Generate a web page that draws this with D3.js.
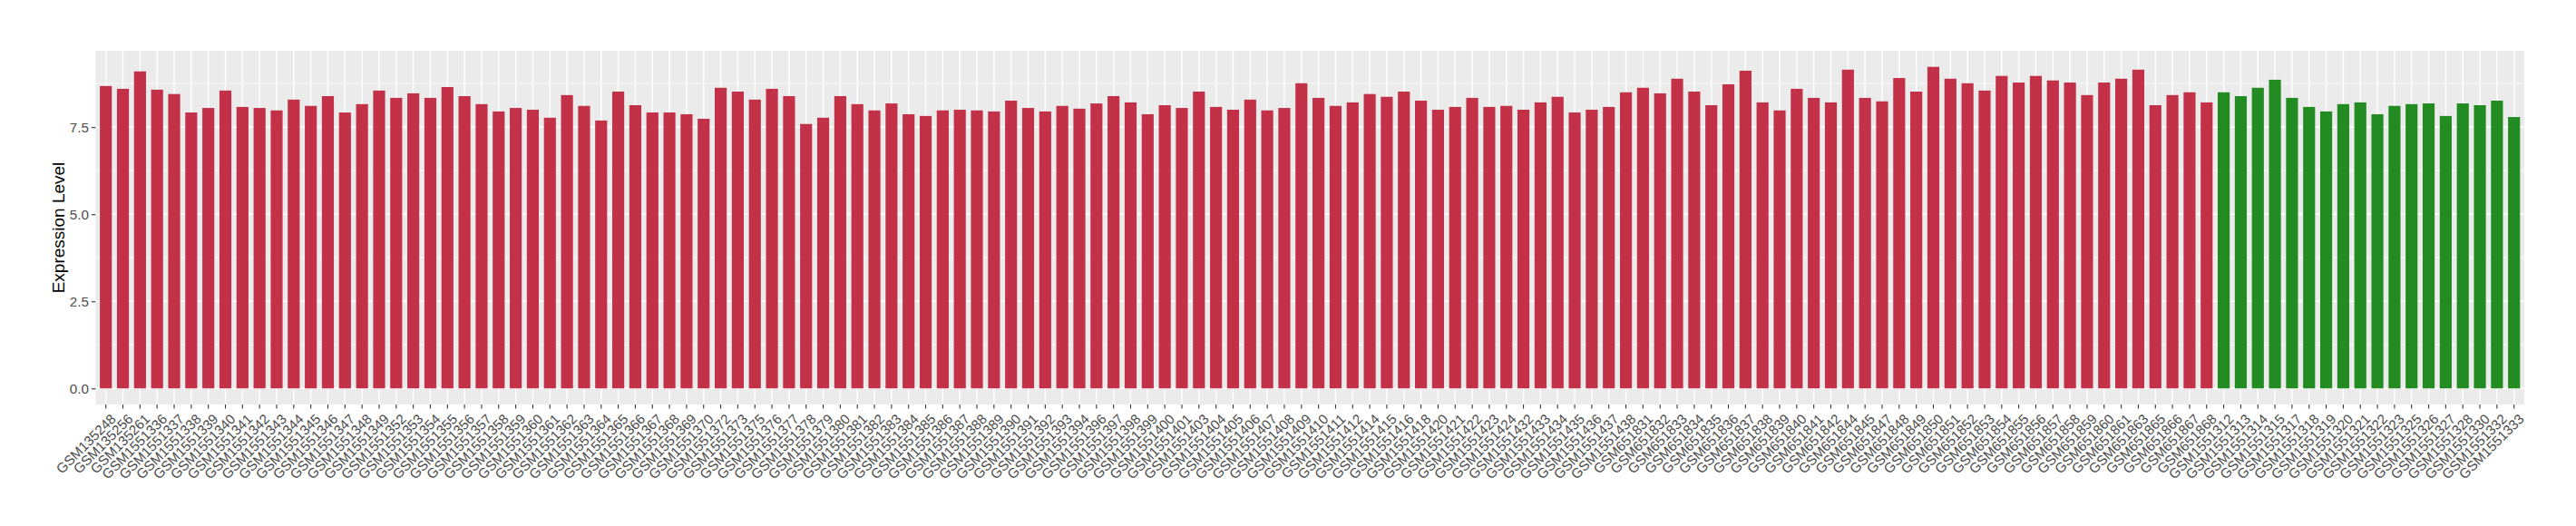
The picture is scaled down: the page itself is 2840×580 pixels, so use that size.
<!DOCTYPE html>
<html>
<head>
<meta charset="utf-8">
<script src="https://cdn.jsdelivr.net/npm/d3@7"></script>
<style>
  html, body { margin: 0; padding: 0; background: #ffffff; }
  svg { display: block; }
</style>
</head>
<body>
<svg id="chart" width="2840" height="580"></svg>
<script>
// ---------------- data ----------------
const tumorSamples = ["GSM135248","GSM135256","GSM135261","GSM1551336","GSM1551337","GSM1551338","GSM1551339","GSM1551340","GSM1551341","GSM1551342","GSM1551343","GSM1551344","GSM1551345","GSM1551346","GSM1551347","GSM1551348","GSM1551349","GSM1551352","GSM1551353","GSM1551354","GSM1551355","GSM1551356","GSM1551357","GSM1551358","GSM1551359","GSM1551360","GSM1551361","GSM1551362","GSM1551363","GSM1551364","GSM1551365","GSM1551366","GSM1551367","GSM1551368","GSM1551369","GSM1551370","GSM1551372","GSM1551373","GSM1551375","GSM1551376","GSM1551377","GSM1551378","GSM1551379","GSM1551380","GSM1551381","GSM1551382","GSM1551383","GSM1551384","GSM1551385","GSM1551386","GSM1551387","GSM1551388","GSM1551389","GSM1551390","GSM1551391","GSM1551392","GSM1551393","GSM1551394","GSM1551396","GSM1551397","GSM1551398","GSM1551399","GSM1551400","GSM1551401","GSM1551403","GSM1551404","GSM1551405","GSM1551406","GSM1551407","GSM1551408","GSM1551409","GSM1551410","GSM1551411","GSM1551412","GSM1551414","GSM1551415","GSM1551416","GSM1551418","GSM1551420","GSM1551421","GSM1551422","GSM1551423","GSM1551424","GSM1551432","GSM1551433","GSM1551434","GSM1551435","GSM1551436","GSM1551437","GSM1551438","GSM651831","GSM651832","GSM651833","GSM651834","GSM651835","GSM651836","GSM651837","GSM651838","GSM651839","GSM651840","GSM651841","GSM651842","GSM651844","GSM651845","GSM651847","GSM651848","GSM651849","GSM651850","GSM651851","GSM651852","GSM651853","GSM651854","GSM651855","GSM651856","GSM651857","GSM651858","GSM651859","GSM651860","GSM651861","GSM651863","GSM651865","GSM651866","GSM651867","GSM651868"];

const tumorValues = [
  8.68, 8.60, 9.10, 8.575, 8.45, 7.92, 8.05, 8.55, 8.08, 8.05, 7.98, 8.29, 8.11, 8.39, 7.92, 8.16, 8.55, 8.34, 8.47, 8.34, 8.65, 8.39, 8.16, 7.95,
  8.05, 8.00, 7.77, 8.42, 8.11, 7.69, 8.52, 8.13, 7.92, 7.92, 7.87, 7.74, 8.63, 8.52, 8.29, 8.60, 8.39, 7.59, 7.77, 8.39, 8.16, 7.98, 8.18, 7.87,
  7.82, 7.98, 8.00, 7.98, 7.95, 8.26, 8.05, 7.95, 8.11, 8.03, 8.18, 8.39, 8.21, 7.87, 8.13, 8.05, 8.52, 8.08, 8.00, 8.29, 7.98, 8.05, 8.76, 8.34,
  8.11, 8.21, 8.45, 8.37, 8.52, 8.26, 8.00, 8.08, 8.34, 8.08, 8.11, 8.00, 8.21, 8.37, 7.92, 8.00, 8.08, 8.50, 8.63, 8.47, 8.89, 8.52, 8.13, 8.73,
  9.12, 8.21, 7.98, 8.60, 8.34, 8.21, 9.15, 8.34, 8.24, 8.91, 8.52, 9.23, 8.89, 8.76, 8.55, 8.97, 8.78, 8.97, 8.84, 8.78, 8.42, 8.78, 8.89, 9.15,
  8.13, 8.42, 8.50, 8.21
];

const normalSamples = ["GSM1551312","GSM1551313","GSM1551314","GSM1551315","GSM1551317","GSM1551318","GSM1551319","GSM1551320","GSM1551321","GSM1551322","GSM1551323","GSM1551325","GSM1551326","GSM1551327","GSM1551328","GSM1551330","GSM1551332","GSM1551333"];

const normalValues = [8.50, 8.39, 8.63, 8.86, 8.34, 8.08, 7.95, 8.16, 8.21, 7.87, 8.11, 8.16, 8.18, 7.82, 8.18, 8.13, 8.26, 7.79];

const yTicks = [0, 2.5, 5, 7.5];
const yMinorTicks = [1.25, 3.75, 6.25, 8.75];
const yTitle = "Expression Level";

const groupColors = { tumor: "#C33149", normal: "#228B22" };

// ---------------- build ----------------
const rows = tumorSamples.map((s, i) => ({ sample: s, value: tumorValues[i], group: "tumor" }))
  .concat(normalSamples.map((s, i) => ({ sample: s, value: normalValues[i], group: "normal" })));

const panel = { left: 105.4, right: 2783, top: 56, bottom: 446 };

const svg = d3.select("#chart");
const font = "'Liberation Sans', Arial, Helvetica, sans-serif";

const yMax = d3.max(rows, d => d.value);
const y = d3.scaleLinear()
  .domain([-0.05 * yMax, 1.05 * yMax])
  .range([panel.bottom, panel.top]);

const x = d3.scaleBand()
  .domain(rows.map(d => d.sample))
  .range([panel.left, panel.right])
  .paddingInner(0.3)
  .paddingOuter(0.25);

// panel background
svg.append("rect")
  .attr("x", panel.left).attr("y", panel.top)
  .attr("width", panel.right - panel.left)
  .attr("height", panel.bottom - panel.top)
  .attr("fill", "#EBEBEB");

// minor horizontal grid
svg.append("g").selectAll("line").data(yMinorTicks).join("line")
  .attr("x1", panel.left).attr("x2", panel.right)
  .attr("y1", d => y(d)).attr("y2", d => y(d))
  .attr("stroke", "#ffffff").attr("stroke-width", 0.7);

// major horizontal grid
svg.append("g").selectAll("line").data(yTicks).join("line")
  .attr("x1", panel.left).attr("x2", panel.right)
  .attr("y1", d => y(d)).attr("y2", d => y(d))
  .attr("stroke", "#ffffff").attr("stroke-width", 1.4);

// vertical grid
svg.append("g").selectAll("line").data(rows).join("line")
  .attr("x1", d => x(d.sample) + x.bandwidth() / 2)
  .attr("x2", d => x(d.sample) + x.bandwidth() / 2)
  .attr("y1", panel.top).attr("y2", panel.bottom)
  .attr("stroke", "#ffffff").attr("stroke-width", 1.4);

// bars
svg.append("g").selectAll("rect").data(rows).join("rect")
  .attr("x", d => x(d.sample))
  .attr("width", x.bandwidth())
  .attr("y", d => y(d.value))
  .attr("height", d => y(0) - y(d.value))
  .attr("fill", d => groupColors[d.group]);

// y axis
const yAxis = svg.append("g")
  .attr("transform", `translate(${panel.left},0)`)
  .call(d3.axisLeft(y).tickValues(yTicks).tickFormat(d3.format(".1f")).tickSize(4.5).tickPadding(3));
yAxis.select(".domain").remove();
yAxis.selectAll(".tick line").attr("stroke", "#333333").attr("stroke-width", 1.1);
yAxis.selectAll(".tick text")
  .attr("fill", "#4D4D4D")
  .style("font-family", font)
  .style("font-size", "15.2px");

// x axis
const xAxis = svg.append("g")
  .attr("transform", `translate(0,${panel.bottom})`)
  .call(d3.axisBottom(x).tickSize(4.5).tickSizeOuter(0));
xAxis.select(".domain").remove();
xAxis.selectAll(".tick line").attr("stroke", "#333333").attr("stroke-width", 1.1);
xAxis.selectAll(".tick text")
  .attr("fill", "#4D4D4D")
  .style("font-family", font)
  .style("font-size", "15.2px")
  .attr("text-anchor", "end")
  .attr("y", 0).attr("dy", null)
  .attr("transform", "translate(4,9) rotate(-45)")
  .attr("dominant-baseline", "hanging");

// y title
svg.append("text")
  .attr("transform", `translate(71,${(panel.top + panel.bottom) / 2}) rotate(-90)`)
  .attr("text-anchor", "middle")
  .attr("fill", "#000000")
  .style("font-family", font)
  .style("font-size", "19px")
  .text(yTitle);
</script>
</body>
</html>
